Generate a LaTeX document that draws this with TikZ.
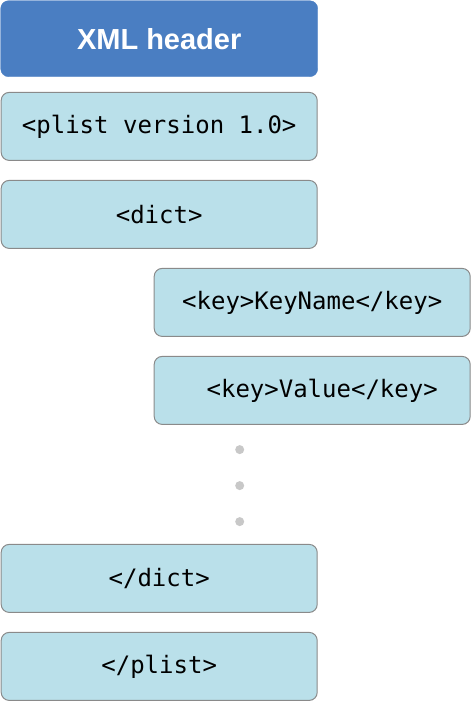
\documentclass[tikz,border=0pt]{standalone}
\usepackage{fontspec}
\setmonofont{DejaVu Sans Mono}
\newfontfamily\headfont{Liberation Sans}
\usetikzlibrary{positioning}
\definecolor{headblue}{HTML}{4A7EC2}
\definecolor{tagfill}{HTML}{BAE0EA}
\definecolor{tagline}{HTML}{8A8A8A}
\definecolor{dotgrey}{HTML}{C8C8C8}
\tikzset{
  headbox/.style={fill=headblue, draw=headblue, rounded corners=8pt,
                  minimum width=317pt, minimum height=76pt, inner sep=0pt,
                  text=white, font=\headfont\bfseries\fontsize{29}{32}\selectfont},
  tagbox/.style={fill=tagfill, draw=tagline, line width=1pt, rounded corners=8pt,
                 minimum width=316pt, minimum height=68pt, inner sep=0pt,
                 text=black, font=\ttfamily\fontsize{24}{28}\selectfont},
  gapdot/.style={circle, fill=dotgrey, minimum size=9pt, inner sep=0pt},
}
\begin{document}
\begin{tikzpicture}
  \useasboundingbox (0,0) rectangle (472pt,-704pt);
  \node[headbox, anchor=north west] (head) at (0.5pt,-0.5pt) {XML header};
  \node[tagbox, below=15pt of head] (plist) {<plist version 1.0>};
  \node[tagbox, below=19pt of plist] (dict) {<dict>};
  \node[tagbox, below=19pt of dict, xshift=153pt] (key) {<key>KeyName</key>};
  \node[tagbox, below=19pt of key] (value) {\hspace*{20pt}<key>Value</key>};
  \node[tagbox, below=295pt of dict] (enddict) {</dict>};
  \node[tagbox, below=19pt of enddict] (endplist) {</plist>};
  % ellipsis between the entries and </dict>
  \foreach \i/\y in {1/20, 2/56, 3/92}
    \node[gapdot, below=\y pt of value.south west, xshift=86pt] (dot\i) {};
\end{tikzpicture}
\end{document}
